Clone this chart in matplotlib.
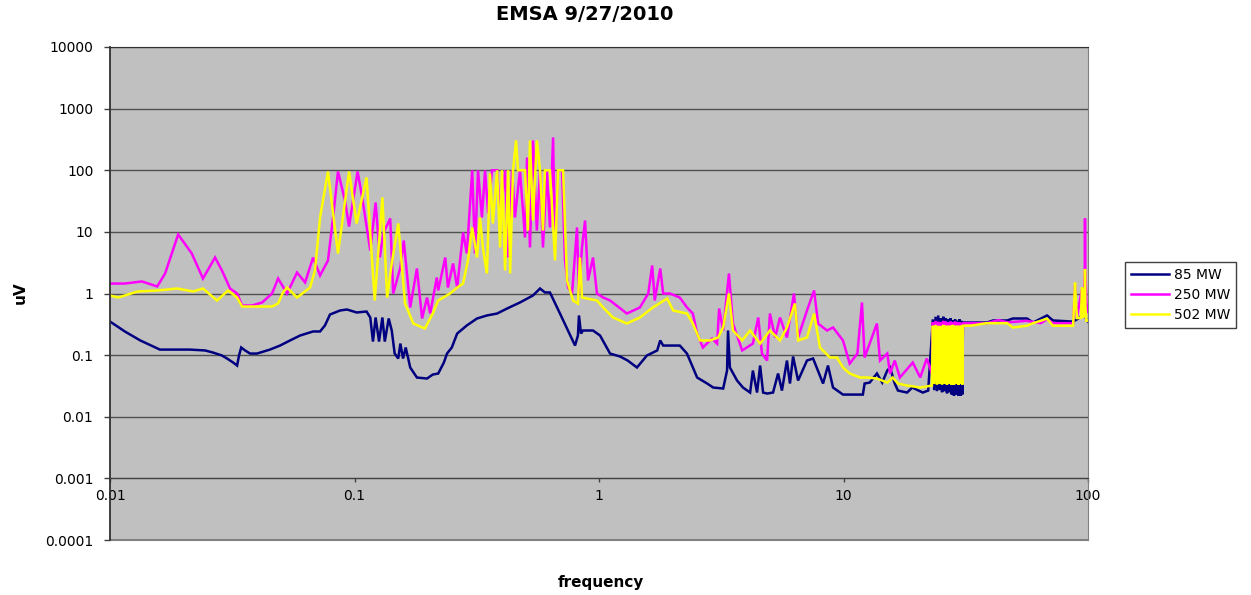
import matplotlib.pyplot as plt
from matplotlib.ticker import FixedLocator, FixedFormatter, NullLocator

# Données (fréquence, uV)
# 85 MW : avant le bloc 23-31 Hz
freq_85_a = [0.0100, 0.0115, 0.0133, 0.0160, 0.0184, 0.0212, 0.0245, 0.0264, 0.0287, 0.0301,
             0.0319, 0.0331, 0.0337, 0.0344, 0.0357, 0.0374, 0.0399, 0.0451, 0.0496, 0.0545,
             0.0599, 0.0677, 0.0723, 0.0757, 0.0794, 0.0873, 0.0932, 0.102, 0.112, 0.116,
             0.119, 0.122, 0.126, 0.130, 0.133, 0.138, 0.142, 0.146, 0.151, 0.154,
             0.158, 0.162, 0.169, 0.180, 0.198, 0.209, 0.220, 0.232, 0.239, 0.250,
             0.263, 0.288, 0.317, 0.348, 0.383, 0.421, 0.475, 0.537, 0.574, 0.601,
             0.630, 0.693, 0.798, 0.820, 0.828, 0.844, 0.860, 0.945, 1.01, 1.11,
             1.22, 1.31, 1.43, 1.57, 1.73, 1.78, 1.83, 2.14, 2.29, 2.52,
             2.77, 2.93, 3.22, 3.34, 3.37, 3.43, 3.67, 3.88, 4.15, 4.26,
             4.43, 4.56, 4.69, 4.87, 5.15, 5.40, 5.60, 5.87, 6.04, 6.22,
             6.52, 7.09, 7.51, 8.25, 8.64, 9.06, 9.95, 12.0, 12.2, 12.8,
             13.7, 14.4, 15.1, 15.5, 16.2, 16.7, 18.2, 19.1, 21.1, 22.2]
uv_85_a = [0.351, 0.242, 0.173, 0.123, 0.123, 0.123, 0.119, 0.110, 0.0986, 0.0881,
           0.0758, 0.0678, 0.0986, 0.133, 0.119, 0.106, 0.106, 0.123, 0.143, 0.173,
           0.208, 0.242, 0.242, 0.303, 0.456, 0.530, 0.550, 0.492, 0.510, 0.408,
           0.166, 0.408, 0.166, 0.408, 0.166, 0.393, 0.251, 0.106, 0.0881, 0.154,
           0.0881, 0.133, 0.063, 0.0433, 0.0417, 0.0484, 0.0503, 0.0758, 0.106, 0.133,
           0.224, 0.303, 0.393, 0.440, 0.473, 0.571, 0.715, 0.929, 1.205, 1.04,
           1.04, 0.470, 0.143, 0.208, 0.440, 0.224, 0.251, 0.251, 0.208, 0.106,
           0.0949, 0.0817, 0.063, 0.0986, 0.119, 0.173, 0.143, 0.143, 0.106, 0.0433,
           0.0346, 0.0298, 0.0287, 0.0562, 0.251, 0.063, 0.0387, 0.0298, 0.0247, 0.0562,
           0.0247, 0.0678, 0.0247, 0.0238, 0.0247, 0.0503, 0.0266, 0.0817, 0.0346, 0.0949,
           0.0387, 0.0817, 0.0881, 0.0346, 0.0678, 0.0298, 0.0229, 0.0229, 0.0346, 0.0359,
           0.0503, 0.0359, 0.0562, 0.063, 0.0346, 0.0266, 0.0247, 0.0298, 0.0247, 0.0266]

# Bloc 23-31 Hz : oscillation rapide (bas / haut)
freq_bloc = [23.2, 23.5, 23.8, 24.1, 24.4, 24.7, 25.0, 25.3, 25.6, 25.9, 26.2, 26.5, 26.8,
             27.1, 27.4, 27.7, 28.0, 28.3, 28.6, 28.9, 29.2, 29.5, 29.8, 30.1, 30.4, 30.6]
uv_85_bloc = [0.38, 0.027, 0.42, 0.026, 0.44, 0.027, 0.40, 0.025, 0.42, 0.026, 0.40, 0.024, 0.38,
              0.025, 0.40, 0.023, 0.37, 0.022, 0.38, 0.023, 0.36, 0.022, 0.38, 0.022, 0.36, 0.023]
uv_250_bloc = [0.34, 0.045, 0.36, 0.042, 0.35, 0.045, 0.34, 0.040, 0.36, 0.042, 0.35, 0.040, 0.34,
               0.042, 0.35, 0.040, 0.34, 0.040, 0.35, 0.042, 0.34, 0.040, 0.34, 0.042, 0.33, 0.040]
uv_502_bloc = [0.30, 0.034, 0.31, 0.033, 0.30, 0.034, 0.30, 0.033, 0.31, 0.034, 0.30, 0.033, 0.30,
               0.034, 0.30, 0.033, 0.31, 0.033, 0.30, 0.034, 0.30, 0.033, 0.30, 0.034, 0.30, 0.033]

# 85 MW : après le bloc
freq_85_b = [30.8, 38.6, 40.9, 46.7, 49.3, 56.3, 59.6, 68.0, 71.9, 86.9, 92.8, 95.4, 100]
uv_85_b = [0.338, 0.338, 0.365, 0.365, 0.393, 0.393, 0.338, 0.44, 0.365, 0.35, 0.408, 0.47, 0.35]

# 250 MW
freq_250_a = [0.0100, 0.0115, 0.0135, 0.0156, 0.0168, 0.0190, 0.0216, 0.0240, 0.0269, 0.0287,
              0.0310, 0.0331, 0.0347, 0.0381, 0.0419, 0.0460, 0.0487, 0.0530, 0.0582, 0.0628,
              0.0677, 0.0723, 0.0779, 0.0817, 0.0856, 0.0914, 0.0950, 0.0986, 0.103, 0.108,
              0.116, 0.122, 0.127, 0.131, 0.140, 0.144, 0.154, 0.159, 0.169, 0.180,
              0.189, 0.198,
              0.204, 0.217, 0.220, 0.235, 0.241, 0.253, 0.263, 0.278, 0.288, 0.303,
              0.311, 0.320, 0.332, 0.342, 0.352, 0.365, 0.383, 0.394, 0.413, 0.425,
              0.441, 0.453, 0.475, 0.498, 0.508, 0.522, 0.537, 0.557, 0.574, 0.590,
              0.612, 0.630, 0.649, 0.661, 0.680, 0.706, 0.726, 0.747, 0.776, 0.813,
              0.828, 0.852, 0.877, 0.902, 0.945, 0.981, 1.04, 1.11,
              1.30, 1.47, 1.59, 1.65, 1.69, 1.78, 1.83, 1.95, 2.14, 2.29,
              2.42, 2.52, 2.66, 2.90, 3.04, 3.10, 3.22, 3.40, 3.53, 3.85,
              4.26, 4.48, 4.64, 4.87, 5.00, 5.25, 5.50, 5.87, 6.27, 6.52,
              7.09, 7.58, 7.87, 8.56, 9.06, 9.95, 10.6, 11.4, 11.9, 12.2,
              12.8, 13.7, 14.1, 15.1, 15.5, 16.2, 17.0, 19.2, 20.6, 21.9, 23.0]
uv_250_a = [1.45, 1.45, 1.57, 1.30, 2.11, 9.08, 4.46, 1.75, 3.84, 2.36,
            1.20, 1.0, 0.639, 0.639, 0.715, 1.0, 1.75, 1.0, 2.19, 1.51,
            3.84, 1.96, 3.43, 17.1, 95.6, 32.3, 12.2, 32.3, 95.6, 32.3,
            4.99, 30.0, 3.84, 9.42, 16.5, 1.0, 2.64, 7.25, 0.593, 2.55,
            0.393, 0.861,
            0.473, 1.82, 1.12, 3.84, 1.25, 3.07, 1.25, 9.78, 4.46, 100,
            4.46, 100, 17.1, 100, 19.9, 100, 100, 17.1, 100, 3.84,
            100, 17.1, 100, 8.11, 161, 5.58, 305, 10.5, 100, 5.58,
            100, 11.8, 341, 5.58, 100, 100, 3.43, 1.25, 1.0, 11.8,
            1.0, 5.58, 15.3, 1.63, 3.84, 1.0, 0.861, 0.770,
            0.473, 0.593, 1.0, 2.85, 0.770, 2.55, 1.0, 1.0, 0.861, 0.593,
            0.473, 0.224, 0.133, 0.186, 0.154, 0.571, 0.251, 2.11, 0.326, 0.119,
            0.154, 0.408, 0.106, 0.0817, 0.473, 0.193, 0.408, 0.193, 1.0, 0.193,
            0.530, 1.12, 0.326, 0.251, 0.281, 0.173, 0.073, 0.106, 0.715, 0.0914,
            0.154, 0.326, 0.0817, 0.106, 0.0503, 0.0817, 0.0433, 0.0758, 0.0433, 0.0881, 0.0503]
freq_250_b = [30.8, 38.6, 43.0, 47.0, 56.0, 64.0, 68.0, 72.0, 87.0, 88.5,
              90.0, 94.5, 95.5, 97.0, 97.2, 97.5, 98.5, 100]
uv_250_b = [0.33, 0.33, 0.37, 0.34, 0.36, 0.33, 0.38, 0.33, 0.33, 1.4,
            0.40, 1.2, 0.40, 2.5, 16.5, 2.5, 0.70, 0.50]

# 502 MW
freq_502_a = [0.0100, 0.0108, 0.0130, 0.0157, 0.0188, 0.0219, 0.0240, 0.0274, 0.0304, 0.0331,
              0.0347, 0.0392, 0.0460, 0.0487, 0.0510, 0.0530, 0.0582, 0.0658, 0.0689, 0.0723,
              0.0779, 0.0856, 0.0950, 0.102, 0.112, 0.121, 0.130, 0.136, 0.142, 0.151,
              0.161, 0.174, 0.194, 0.209,
              0.220, 0.246, 0.263, 0.278, 0.291, 0.303, 0.317, 0.326, 0.335, 0.348,
              0.358, 0.368, 0.383, 0.394, 0.401, 0.413, 0.425, 0.433, 0.445, 0.458,
              0.466, 0.498, 0.512, 0.522, 0.537, 0.557, 0.574, 0.590, 0.601, 0.630,
              0.661, 0.680, 0.713, 0.740, 0.783, 0.820, 0.836, 0.852, 0.981,
              1.04, 1.14, 1.30, 1.47, 1.66, 1.90, 2.01, 2.29, 2.42, 2.59,
              2.84, 3.07, 3.22, 3.40, 3.53, 3.85, 4.15, 4.56, 5.00, 5.50,
              5.87, 6.33, 6.52, 7.09, 7.58, 8.01, 8.81, 9.40, 9.95, 10.6,
              11.7, 12.5, 13.7, 15.1, 15.9, 16.7, 18.2, 20.6, 23.0]
uv_502_a = [0.928, 0.861, 1.08, 1.12, 1.205, 1.08, 1.205, 0.770, 1.12, 0.861,
            0.615, 0.615, 0.615, 0.688, 1.04, 1.25, 0.861, 1.25, 2.36, 17.1,
            95.6, 4.46, 95.6, 13.7, 76.4, 0.770, 36.2, 0.861, 3.07, 13.7,
            0.688, 0.326, 0.270, 0.473,
            0.770, 1.0, 1.25, 1.45, 3.43, 11.8, 3.84, 17.1, 5.58, 2.11,
            88.7, 13.7, 100, 5.58, 100, 2.36, 100, 2.11, 100, 305,
            100, 100, 10.5, 305, 15.3, 305, 100, 10.5, 100, 100,
            3.43, 100, 100, 1.63, 0.770, 0.688, 3.84, 0.861, 0.770,
            0.593, 0.408, 0.326, 0.408, 0.593, 0.830, 0.530, 0.473, 0.326, 0.173,
            0.173, 0.193, 0.281, 1.0, 0.251, 0.173, 0.251, 0.154, 0.251, 0.173,
            0.281, 0.688, 0.173, 0.193, 0.473, 0.133, 0.0914, 0.0914, 0.063, 0.0503,
            0.0433, 0.0433, 0.0417, 0.0359, 0.0433, 0.0346, 0.0321, 0.0298, 0.0321]
freq_502_b = [30.8, 33.0, 38.6, 46.7, 49.3, 56.3, 59.6, 68.0, 71.9, 86.9,
              88.5, 89.5, 90.2, 93.5, 94.5, 95.4, 96.8, 97.2, 97.6, 98.5, 100]
uv_502_b = [0.30, 0.30, 0.33, 0.33, 0.28, 0.30, 0.33, 0.39, 0.30, 0.30,
            1.5, 0.60, 0.40, 0.40, 1.25, 0.40, 0.50, 2.5, 0.60, 0.36, 0.36]

series_labels = ['85 MW', '250 MW', '502 MW']
series_colors = ['#000080', '#FF00FF', '#FFFF00']

y_ticks = [1e-4, 1e-3, 1e-2, 1e-1, 1, 10, 100, 1000, 10000]
y_tick_labels = ['0.0001', '0.001', '0.01', '0.1', '1', '10', '100', '1000', '10000']
x_ticks = [0.01, 0.1, 1, 10, 100]
x_tick_labels = ['0.01', '0.1', '1', '10', '100']

plt.rcParams['font.family'] = 'DejaVu Sans'

fig = plt.figure(figsize=(12.51, 5.95), dpi=100)
ax = fig.add_axes([110 / 1251, 1 - 540 / 595, 978 / 1251, 493 / 595])
ax.set_facecolor('#C0C0C0')
ax.set_xscale('log')
ax.set_yscale('log')

series = [
    (freq_85_a + freq_bloc + freq_85_b, uv_85_a + uv_85_bloc + uv_85_b),
    (freq_250_a + freq_bloc + freq_250_b, uv_250_a + uv_250_bloc + uv_250_b),
    (freq_502_a + freq_bloc + freq_502_b, uv_502_a + uv_502_bloc + uv_502_b),
]
for (f, v), c, lab in zip(series, series_colors, series_labels):
    ax.plot(f, v, color=c, lw=1.8, label=lab, solid_joinstyle='miter')

ax.set_xlim(0.01, 100)
ax.set_ylim(1e-4, 1e4)

# Graduations
ax.yaxis.set_major_locator(FixedLocator(y_ticks))
ax.yaxis.set_major_formatter(FixedFormatter(y_tick_labels))
ax.yaxis.set_minor_locator(NullLocator())
ax.xaxis.set_major_locator(FixedLocator(x_ticks))
ax.xaxis.set_major_formatter(FixedFormatter(x_tick_labels))
ax.xaxis.set_minor_locator(NullLocator())
ax.tick_params(axis='y', direction='out', length=4, width=1, pad=8, labelsize=10, color='#404040')
ax.tick_params(axis='x', direction='out', length=3, width=1, pad=5, labelsize=10, color='#404040')

# Grille horizontale et bordures façon Excel
ax.set_axisbelow(True)
ax.grid(axis='y', color='#505050', lw=1)
ax.spines['bottom'].set_position(('data', 0.001))
ax.spines['bottom'].set_color('#404040')
ax.spines['left'].set_color('#303030')
ax.spines['left'].set_linewidth(1.3)
ax.spines['right'].set_color('#808080')
ax.spines['top'].set_color('#303030')
ax.axhline(1e-4, color='#808080', lw=1.5, clip_on=False)

# Textes
fig.text(585 / 1251, 1 - 15 / 595, 'EMSA 9/27/2010', ha='center', va='center',
         fontsize=14, fontweight='bold')
fig.text(601 / 1251, 1 - 583 / 595, 'frequency', ha='center', va='center',
         fontsize=11, fontweight='bold')
fig.text(20 / 1251, 1 - 293 / 595, 'uV', ha='center', va='center', rotation=90,
         fontsize=11, fontweight='bold')

# Légende à droite
fig.legend(loc='upper left', bbox_to_anchor=(1125 / 1251, 1 - 262 / 595),
           bbox_transform=fig.transFigure, fontsize=10, frameon=True, fancybox=False,
           edgecolor='#404040', framealpha=1, borderpad=0.4, borderaxespad=0,
           handlelength=2.8, handletextpad=0.3, labelspacing=0.45)

plt.savefig('out.png', dpi=100, facecolor='white')
